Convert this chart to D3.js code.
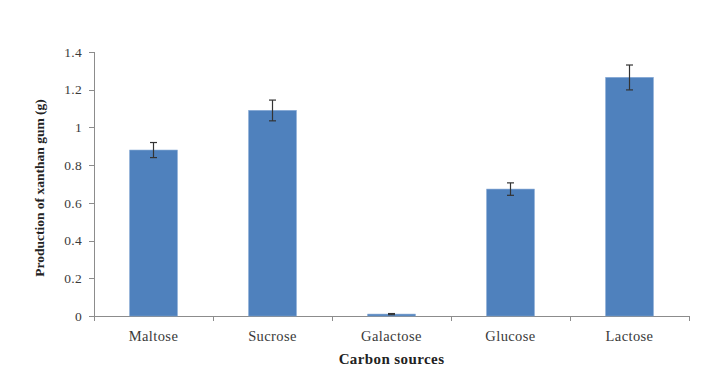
<!DOCTYPE html>
<html><head><meta charset="utf-8">
<script src="https://cdn.jsdelivr.net/npm/d3@7"></script>
<style>body{margin:0;background:#fff}svg{display:block}</style>
</head><body>
<svg id="c" width="703" height="377"></svg>
<script>
const categories = ["Maltose","Sucrose","Galactose","Glucose","Lactose"];
const values = [0.88, 1.09, 0.01, 0.673, 1.265];
const errors = [0.04, 0.055, 0.003, 0.033, 0.066];
const yTicks = [0, 0.2, 0.4, 0.6, 0.8, 1, 1.2, 1.4];

(function(){
const svg = d3.select("#c");
const mLeft = 94, mRight = 689, mTop = 52, mBottom = 316;
const x = d3.scaleBand().domain(categories).range([mLeft, mRight]).paddingInner(0.6).paddingOuter(0.3);
const y = d3.scaleLinear().domain([0, 1.4]).range([mBottom, mTop]);
const font = "'Liberation Serif', 'Times New Roman', serif";
const axisCol = "#8c8c8c";
const txtCol = "#3a3a3a";

// y axis
svg.append("line").attr("x1", mLeft + 0.5).attr("x2", mLeft + 0.5).attr("y1", mTop).attr("y2", mBottom).attr("stroke", axisCol);
yTicks.forEach(t => {
  const yy = Math.round(y(t)) + 0.5;
  svg.append("line").attr("x1", mLeft - 5).attr("x2", mLeft).attr("y1", yy).attr("y2", yy).attr("stroke", axisCol);
  svg.append("text").attr("x", mLeft - 12).attr("y", y(t)).attr("dy", "0.35em").attr("text-anchor", "end")
    .attr("font-family", font).attr("font-size", 13.5).attr("letter-spacing", 0.3).attr("fill", txtCol).text(d3.format("~g")(t));
});

// x axis
svg.append("line").attr("x1", mLeft).attr("x2", mRight).attr("y1", mBottom + 0.5).attr("y2", mBottom + 0.5).attr("stroke", axisCol);
const step = x.step();
for (let i = 0; i <= categories.length; i++) {
  const xx = Math.round(mLeft + i * step) + 0.5;
  svg.append("line").attr("x1", xx).attr("x2", xx).attr("y1", mBottom).attr("y2", mBottom + 5).attr("stroke", axisCol);
}
categories.forEach(c => {
  svg.append("text").attr("x", x(c) + x.bandwidth() / 2).attr("y", 341).attr("text-anchor", "middle")
    .attr("font-family", font).attr("font-size", 14.5).attr("letter-spacing", 0.4).attr("fill", txtCol).text(c);
});

// bars
svg.selectAll("rect.bar").data(categories).enter().append("rect").attr("class", "bar")
  .attr("x", d => x(d)).attr("width", x.bandwidth())
  .attr("y", (d, i) => y(values[i])).attr("height", (d, i) => mBottom - y(values[i]))
  .attr("fill", "#4F81BD").attr("stroke", "#7aa0d0").attr("stroke-width", 0.6);

// error bars
categories.forEach((c, i) => {
  const cx = x(c) + x.bandwidth() / 2;
  const y1 = y(values[i] + errors[i]), y2 = y(values[i] - errors[i]);
  const g = svg.append("g").attr("stroke", "#333").attr("stroke-width", 1.2);
  g.append("line").attr("x1", cx).attr("x2", cx).attr("y1", y1).attr("y2", y2);
  g.append("line").attr("x1", cx - 3.5).attr("x2", cx + 3.5).attr("y1", y1).attr("y2", y1);
  g.append("line").attr("x1", cx - 3.5).attr("x2", cx + 3.5).attr("y1", y2).attr("y2", y2);
});

// titles
svg.append("text").attr("x", (mLeft + mRight) / 2).attr("y", 364).attr("text-anchor", "middle")
  .attr("font-family", font).attr("font-size", 15).attr("letter-spacing", 0.4).attr("font-weight", "bold").attr("fill", "#222").text("Carbon sources");
svg.append("text").attr("transform", "translate(44,188) rotate(-90)").attr("text-anchor", "middle")
  .attr("font-family", font).attr("font-size", 13.5).attr("font-weight", "bold").attr("fill", "#222").text("Production of xanthan gum (g)");
})();
</script>
</body></html>
